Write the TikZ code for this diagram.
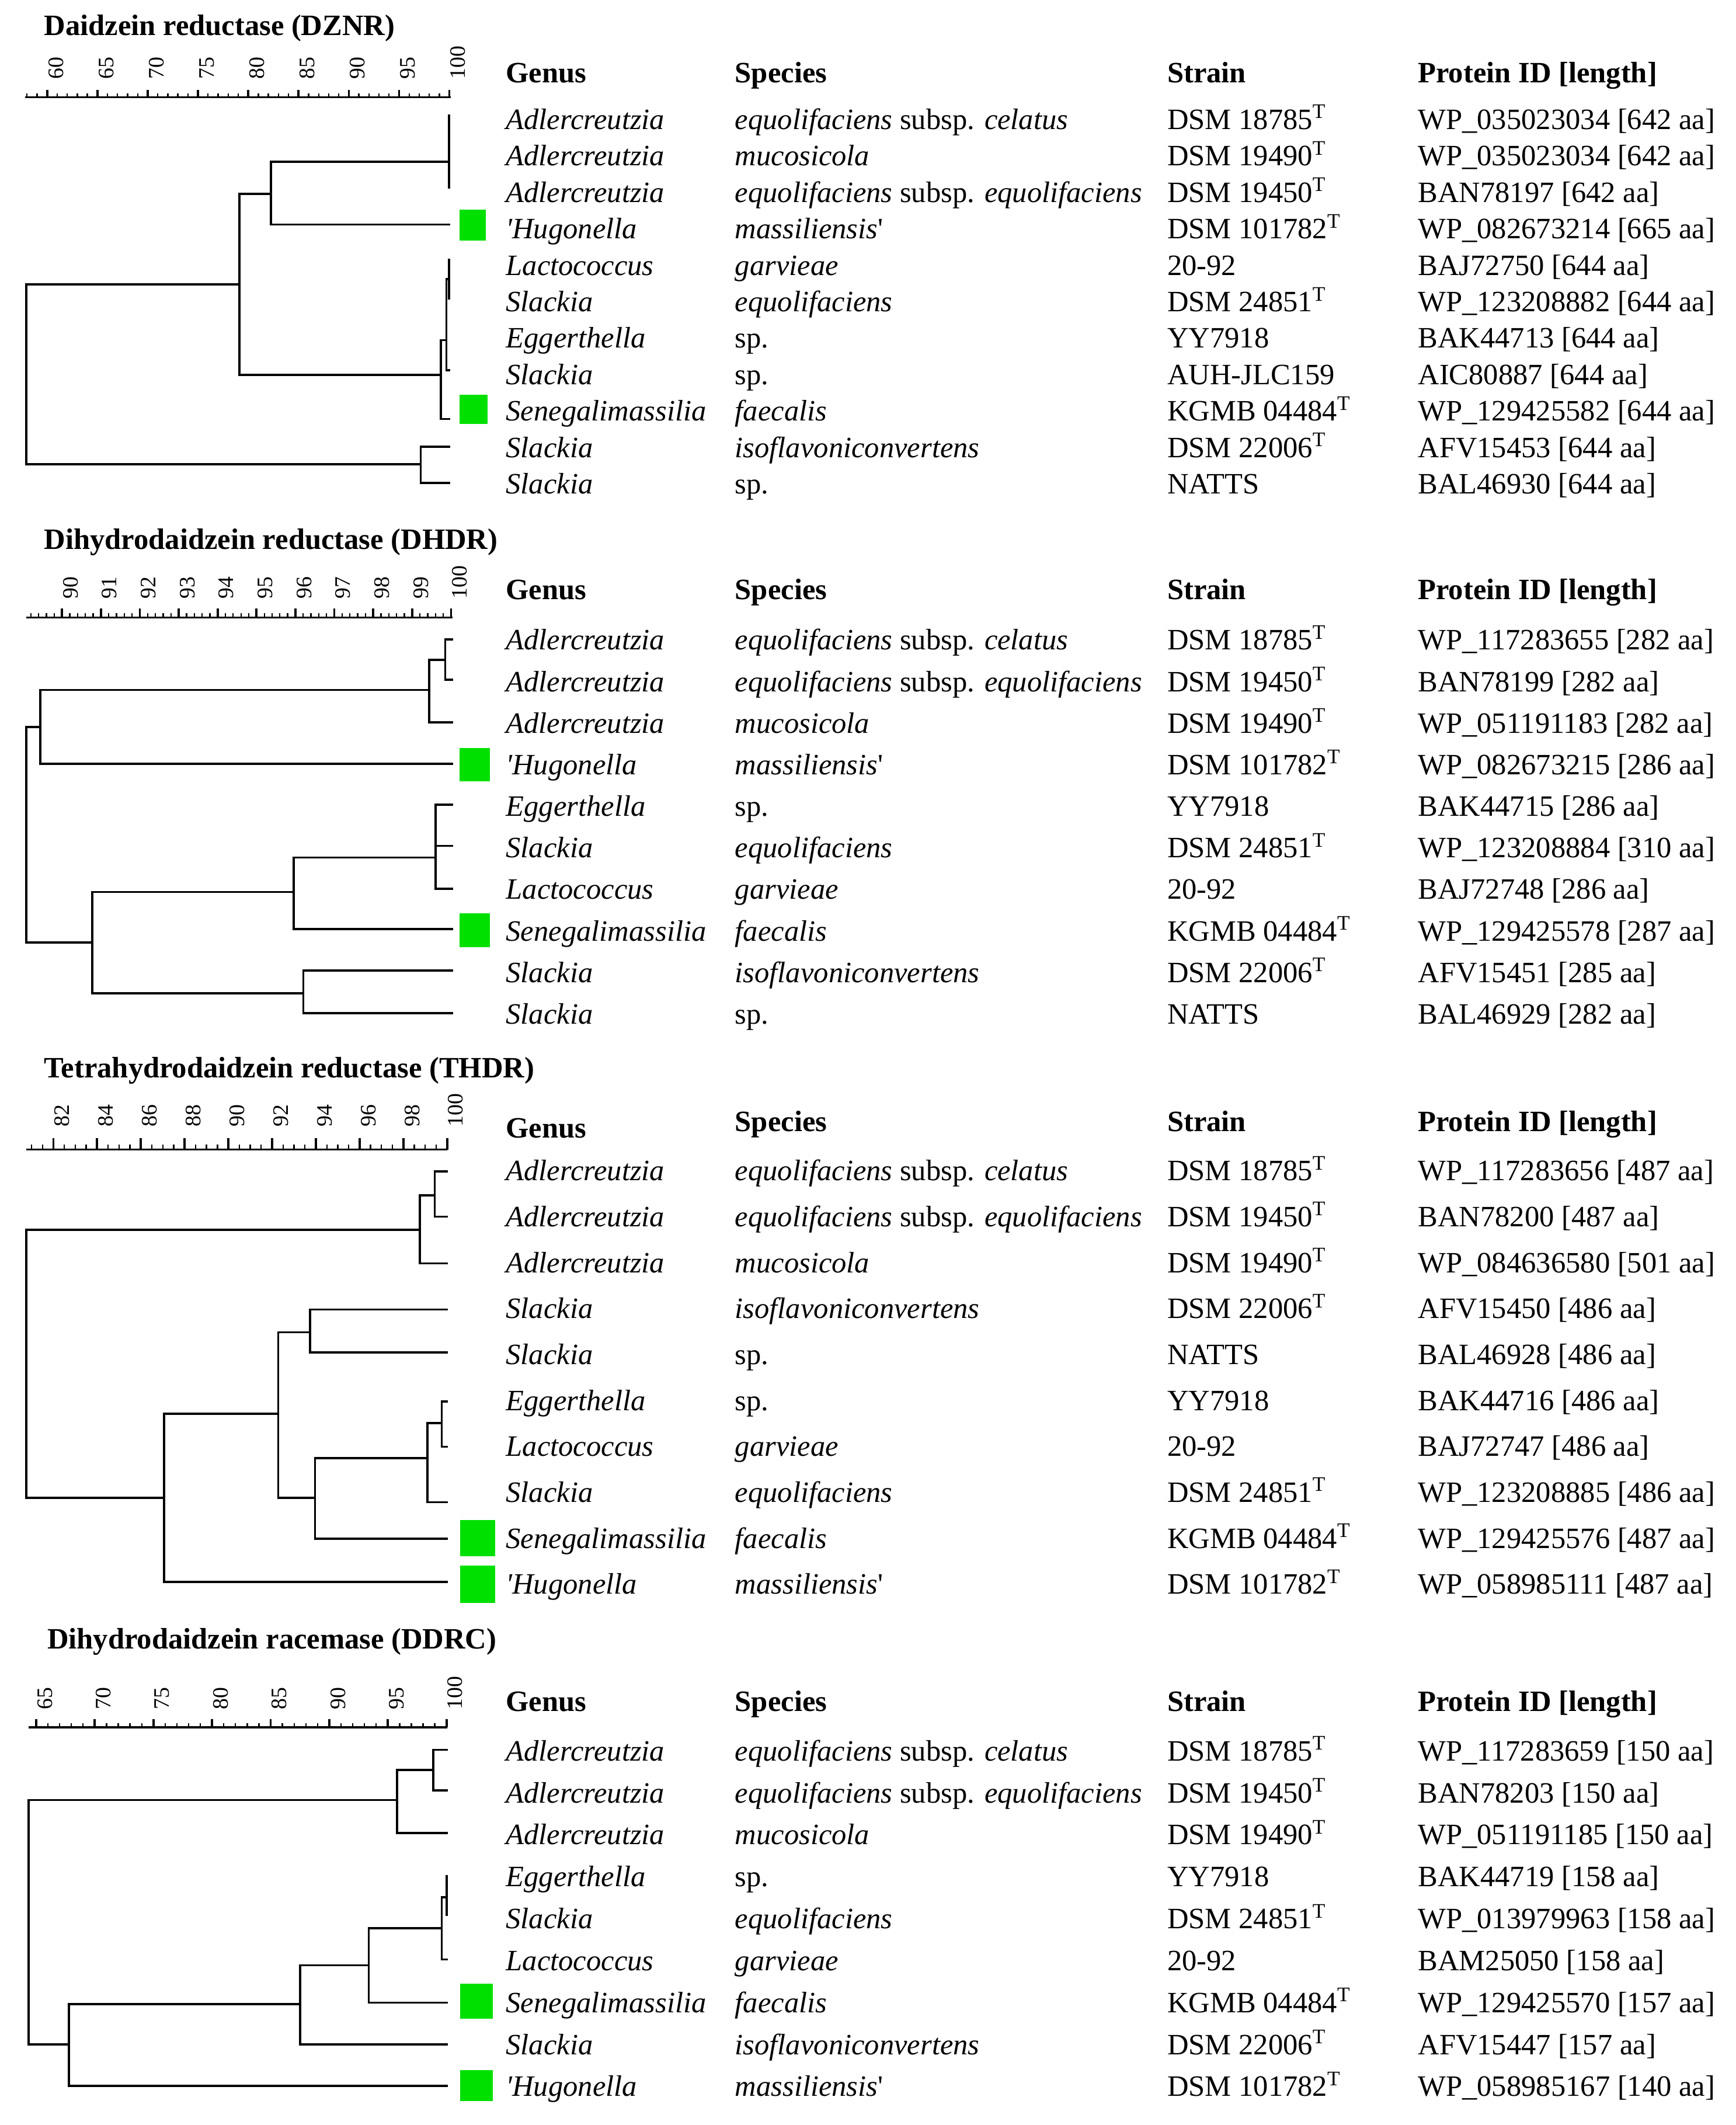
\documentclass[tikz,border=0pt]{standalone}
\usepackage{fontspec}
\setmainfont{Liberation Serif}
\definecolor{hitgreen}{RGB}{0,224,0}
\newcommand{\typ}{\textsuperscript{T}}
\newcommand{\hq}{\textquotesingle}
\newcommand{\eqsub}[1]{\textit{equolifaciens} subsp. \textit{#1}}
\newcommand{\taxrow}[6]{%
  \node[cell] (#1g) at (373,#2) {\textit{#3}};
  \node[cell] (#1s) at (542,#2) {#4};
  \node[cell] (#1t) at (861,#2) {#5};
  \node[cell] (#1p) at (1046,#2) {#6};}
\newcommand{\colheads}[3]{%
  \node[head] (#1g) at (373,#2) {Genus};
  \node[head] (#1s) at (542,#3) {Species};
  \node[head] (#1t) at (861,#3) {Strain};
  \node[head] (#1p) at (1046,#3) {Protein ID [length]};}

\begin{document}
\begin{tikzpicture}[x=0.5pt,y=-0.5pt,
    cell/.style={anchor=base west,inner sep=0pt,font=\fontsize{10.9pt}{13pt}\selectfont},
    head/.style={cell,font=\fontsize{10.9pt}{13pt}\selectfont\bfseries},
    tlab/.style={rotate=90,anchor=west,inner sep=0pt,font=\fontsize{8.15pt}{9pt}\selectfont},
    br/.style={line width=0.8pt,line cap=rect},
    bar/.style={line width=0.7pt},
    minor/.style={line width=0.5pt},
    major/.style={line width=0.8pt},
    hit/.style={fill=hitgreen}]
\useasboundingbox (0,0) rectangle (1281,1568);

%%%%% DZNR %%%%%
\node[head] (t1) at (32.2,26) {Daidzein reductase (DZNR)};
\draw[bar] (18.7,71.6) -- (332.7,71.6);
\foreach \v in {58,...,100}
  \draw[minor] ({34.8+(\v-60)*7.42},71.6) -- ({34.8+(\v-60)*7.42},69);
\foreach \v in {60,65,...,100} {
  \pgfmathsetmacro\xx{34.8+(\v-60)*7.42}
  \draw[major] (\xx,71.6) -- (\xx,66.5);
  \node[tlab] (a\v) at (\xx+6.4,58.9) {\v};
}
\draw[br] (331.4,85.3) -- (331.4,138.5);
\draw[br] (331.4,119.5) -| (200,165.7) -- (331.4,165.7);
\draw[br] (200,143) -| (176.6,276.5) -- (325.3,276.5);
\draw[br] (331.4,191.7) -- (331.4,220.1);
\draw[br] (331.4,206) -| (329.4,273.3) -- (331.4,273.3);
\draw[br] (329.4,251) -| (325.3,309.2) -- (331.4,309.2);
\draw[br] (176.6,209.7) -| (19.3,342.6) -- (310.4,342.6);
\draw[br] (331.4,329.7) -| (310.4,356.2) -- (331.4,356.2);
\fill[hit] (338.9,154.6) rectangle (358.6,177.6);
\fill[hit] (338.9,291.4) rectangle (359.9,312.9);

\colheads{h1}{61}{61}
\taxrow{d1}{95.4}{Adlercreutzia}{\eqsub{celatus}}{DSM 18785\typ}{WP\_035023034 [642 aa]}
\taxrow{d2}{122.3}{Adlercreutzia}{\textit{mucosicola}}{DSM 19490\typ}{WP\_035023034 [642 aa]}
\taxrow{d3}{149.2}{Adlercreutzia}{\eqsub{equolifaciens}}{DSM 19450\typ}{BAN78197 [642 aa]}
\taxrow{d4}{176.1}{\hq Hugonella}{\textit{massiliensis}\hq}{DSM 101782\typ}{WP\_082673214 [665 aa]}
\taxrow{d5}{203.0}{Lactococcus}{\textit{garvieae}}{20-92}{BAJ72750 [644 aa]}
\taxrow{d6}{229.9}{Slackia}{\textit{equolifaciens}}{DSM 24851\typ}{WP\_123208882 [644 aa]}
\taxrow{d7}{256.8}{Eggerthella}{sp.}{YY7918}{BAK44713 [644 aa]}
\taxrow{d8}{283.7}{Slackia}{sp.}{AUH-JLC159}{AIC80887 [644 aa]}
\taxrow{d9}{310.6}{Senegalimassilia}{\textit{faecalis}}{KGMB 04484\typ}{WP\_129425582 [644 aa]}
\taxrow{d10}{337.5}{Slackia}{\textit{isoflavoniconvertens}}{DSM 22006\typ}{AFV15453 [644 aa]}
\taxrow{d11}{364.4}{Slackia}{sp.}{NATTS}{BAL46930 [644 aa]}

%%%%% DHDR %%%%%
\node[head] (t2) at (32.2,405.2) {Dihydrodaidzein reductase (DHDR)};
\draw[bar] (19.3,455.5) -- (333.9,455.5);
\foreach \i in {446,...,500}
  \draw[minor] ({45.7+(\i/5-90)*28.72},455.5) -- ({45.7+(\i/5-90)*28.72},452.3);
\foreach \v in {90,...,100} {
  \pgfmathsetmacro\xx{45.7+(\v-90)*28.72}
  \draw[major] (\xx,455.5) -- (\xx,449);
  \node[tlab] (b\v) at (\xx+6.4,442.4) {\v};
}
\draw[br] (333.4,471.9) -| (328.5,501.6) -- (333.4,501.6);
\draw[br] (328.5,486.8) -| (316.6,533.0) -- (333.4,533.0);
\draw[br] (316.6,509.1) -| (29.7,563.5) -- (333.4,563.5);
\draw[br] (29.7,536.3) -| (19.3,695.3) -- (68,695.3);
\draw[br] (216.7,658.2) -| (68,732.9) -- (223.8,732.9);
\draw[br] (333.4,716.1) -| (223.8,747.7) -- (333.4,747.7);
\draw[br] (321.5,632.7) -| (216.7,685.4) -- (333.4,685.4);
\draw[br] (333.4,593.9) -| (321.5,655.7) -- (333.4,655.7);
\draw[br] (321.5,624.1) -- (333.4,624.1);
\fill[hit] (338.9,551.8) rectangle (361.6,576.6);
\fill[hit] (338.9,674) rectangle (361.6,698.8);

\colheads{h2}{442.5}{442.5}
\taxrow{e1}{479.5}{Adlercreutzia}{\eqsub{celatus}}{DSM 18785\typ}{WP\_117283655 [282 aa]}
\taxrow{e2}{510.2}{Adlercreutzia}{\eqsub{equolifaciens}}{DSM 19450\typ}{BAN78199 [282 aa]}
\taxrow{e3}{540.8}{Adlercreutzia}{\textit{mucosicola}}{DSM 19490\typ}{WP\_051191183 [282 aa]}
\taxrow{e4}{571.5}{\hq Hugonella}{\textit{massiliensis}\hq}{DSM 101782\typ}{WP\_082673215 [286 aa]}
\taxrow{e5}{602.2}{Eggerthella}{sp.}{YY7918}{BAK44715 [286 aa]}
\taxrow{e6}{632.9}{Slackia}{\textit{equolifaciens}}{DSM 24851\typ}{WP\_123208884 [310 aa]}
\taxrow{e7}{663.5}{Lactococcus}{\textit{garvieae}}{20-92}{BAJ72748 [286 aa]}
\taxrow{e8}{694.2}{Senegalimassilia}{\textit{faecalis}}{KGMB 04484\typ}{WP\_129425578 [287 aa]}
\taxrow{e9}{724.9}{Slackia}{\textit{isoflavoniconvertens}}{DSM 22006\typ}{AFV15451 [285 aa]}
\taxrow{e10}{755.5}{Slackia}{sp.}{NATTS}{BAL46929 [282 aa]}

%%%%% THDR %%%%%
\node[head] (t3) at (32.2,795.2) {Tetrahydrodaidzein reductase (THDR)};
\draw[bar] (19.3,848.2) -- (330.2,848.2);
\foreach \i in {162,...,200}
  \draw[minor] ({39.4+(\i/2-82)*16.14},848.2) -- ({39.4+(\i/2-82)*16.14},844.5);
\foreach \v in {82,84,...,100} {
  \pgfmathsetmacro\xx{39.4+(\v-82)*16.14}
  \draw[major] (\xx,848.2) -- (\xx,839.6);
  \node[tlab] (c\v) at (\xx+6.4,831.7) {\v};
}
\draw[br] (329.7,864.4) -| (320.8,897.8) -- (329.7,897.8);
\draw[br] (320.8,882.1) -| (309.7,932.2) -- (329.7,932.2);
\draw[br] (309.7,907.4) -| (19.3,1105.1) -- (121.2,1105.1);
\draw[br] (205.3,1043.2) -| (121.2,1167.2) -- (329.7,1167.2);
\draw[br] (228.8,983.1) -| (205.3,1105.1) -- (232.5,1105.1);
\draw[br] (329.7,966.2) -| (228.8,998.0) -- (329.7,998.0);
\draw[br] (315.4,1075.8) -| (232.5,1135.3) -- (329.7,1135.3);
\draw[br] (326,1050.2) -| (315.4,1108.5) -- (329.7,1108.5);
\draw[br] (329.7,1034.1) -| (326,1067.5) -- (329.7,1067.5);
\fill[hit] (339.4,1121.5) rectangle (365.6,1148.4);
\fill[hit] (339.4,1155.4) rectangle (365.6,1182.9);

\colheads{h3}{839.5}{834.8}
\taxrow{f1}{871.1}{Adlercreutzia}{\eqsub{celatus}}{DSM 18785\typ}{WP\_117283656 [487 aa]}
\taxrow{f2}{905.0}{Adlercreutzia}{\eqsub{equolifaciens}}{DSM 19450\typ}{BAN78200 [487 aa]}
\taxrow{f3}{938.9}{Adlercreutzia}{\textit{mucosicola}}{DSM 19490\typ}{WP\_084636580 [501 aa]}
\taxrow{f4}{972.8}{Slackia}{\textit{isoflavoniconvertens}}{DSM 22006\typ}{AFV15450 [486 aa]}
\taxrow{f5}{1006.7}{Slackia}{sp.}{NATTS}{BAL46928 [486 aa]}
\taxrow{f6}{1040.6}{Eggerthella}{sp.}{YY7918}{BAK44716 [486 aa]}
\taxrow{f7}{1074.5}{Lactococcus}{\textit{garvieae}}{20-92}{BAJ72747 [486 aa]}
\taxrow{f8}{1108.4}{Slackia}{\textit{equolifaciens}}{DSM 24851\typ}{WP\_123208885 [486 aa]}
\taxrow{f9}{1142.3}{Senegalimassilia}{\textit{faecalis}}{KGMB 04484\typ}{WP\_129425576 [487 aa]}
\taxrow{f10}{1176.2}{\hq Hugonella}{\textit{massiliensis}\hq}{DSM 101782\typ}{WP\_058985111 [487 aa]}

%%%%% DDRC %%%%%
\node[head] (t4) at (34.6,1216.8) {Dihydrodaidzein racemase (DDRC)};
\draw[bar] (21,1274.6) -- (330.2,1274.6);
\foreach \v in {65,...,100}
  \draw[minor] ({26.7+(\v-65)*8.651},1274.6) -- ({26.7+(\v-65)*8.651},1271.6);
\foreach \v in {65,70,...,100} {
  \pgfmathsetmacro\xx{26.7+(\v-65)*8.651}
  \draw[major] (\xx,1274.6) -- (\xx,1268.7);
  \node[tlab] (g\v) at (\xx+6.4,1261.6) {\v};
}
\draw[br] (329.5,1291.2) -| (319.6,1321.1) -- (329.5,1321.1);
\draw[br] (319.6,1306.0) -| (293.1,1352.5) -- (329.5,1352.5);
\draw[br] (293.1,1328.2) -| (21,1508.4) -- (50.7,1508.4);
\draw[br] (221.4,1478.9) -| (50.7,1539.1) -- (329.5,1539.1);
\draw[br] (272.1,1450.1) -| (221.4,1508.4) -- (329.5,1508.4);
\draw[br] (326,1422.7) -| (272.1,1477.7) -- (329.5,1477.7);
\draw[br] (329.5,1399.8) -| (326,1445.8) -- (329.5,1445.8);
\draw[br] (329.5,1384.4) -- (329.5,1412.8);
\fill[hit] (339.4,1463.5) rectangle (363.6,1489.5);
\fill[hit] (339.4,1527.3) rectangle (363.6,1550.2);

\colheads{h4}{1262.7}{1262.7}
\taxrow{k1}{1299.2}{Adlercreutzia}{\eqsub{celatus}}{DSM 18785\typ}{WP\_117283659 [150 aa]}
\taxrow{k2}{1330.2}{Adlercreutzia}{\eqsub{equolifaciens}}{DSM 19450\typ}{BAN78203 [150 aa]}
\taxrow{k3}{1361.1}{Adlercreutzia}{\textit{mucosicola}}{DSM 19490\typ}{WP\_051191185 [150 aa]}
\taxrow{k4}{1392.1}{Eggerthella}{sp.}{YY7918}{BAK44719 [158 aa]}
\taxrow{k5}{1423.0}{Slackia}{\textit{equolifaciens}}{DSM 24851\typ}{WP\_013979963 [158 aa]}
\taxrow{k6}{1453.9}{Lactococcus}{\textit{garvieae}}{20-92}{BAM25050 [158 aa]}
\taxrow{k7}{1484.9}{Senegalimassilia}{\textit{faecalis}}{KGMB 04484\typ}{WP\_129425570 [157 aa]}
\taxrow{k8}{1515.9}{Slackia}{\textit{isoflavoniconvertens}}{DSM 22006\typ}{AFV15447 [157 aa]}
\taxrow{k9}{1546.8}{\hq Hugonella}{\textit{massiliensis}\hq}{DSM 101782\typ}{WP\_058985167 [140 aa]}
\end{tikzpicture}
\end{document}
